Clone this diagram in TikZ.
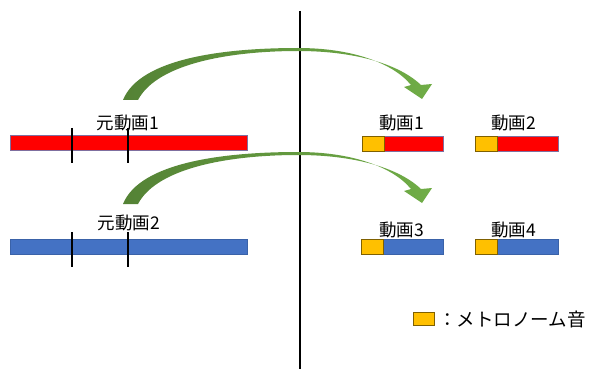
\documentclass[tikz,border=0pt]{standalone}
\usepackage{fontspec}
\newfontfamily\jp{Noto Sans CJK JP}
\definecolor{barred}{HTML}{FF0000}
\definecolor{redline}{HTML}{7F6F9F}
\definecolor{barblue}{HTML}{4472C4}
\definecolor{blueline}{HTML}{3A62A8}
\definecolor{metro}{HTML}{FFC000}
\definecolor{metroline}{HTML}{7F6000}
\definecolor{gdark}{HTML}{548235}
\definecolor{glight}{HTML}{70AD47}
\tikzset{
  barbox/.style={inner sep=0pt, minimum height=15pt, anchor=north west, line width=0.6pt},
  redbar/.style={barbox, fill=barred, draw=redline},
  bluebar/.style={barbox, fill=barblue, draw=blueline},
  metrobox/.style={inner sep=0pt, anchor=north west, fill=metro, draw=metroline, line width=0.7pt},
  lbl/.style={font=\jp\fontsize{17.5}{17.5}\selectfont, inner sep=0pt},
  leglbl/.style={font=\jp\fontsize{18.5}{18.5}\selectfont, inner sep=0pt},
  tick/.style={line width=1.8pt, black},
  garrow/.style={left color=gdark, right color=glight, draw=none}
}
\begin{document}
\begin{tikzpicture}[x=1pt,y=-1pt]
\useasboundingbox (0,0) rectangle (590,369);
% divider
\draw[line width=2pt] (300,11) -- (300,369);
% source bars
\node[redbar, minimum width=237pt] (src1) at (10,135) {};
\node[bluebar, minimum width=237pt] (src2) at (10,239) {};
\draw[tick] (72,128) -- (72,163);
\draw[tick] (128,128) -- (128,163);
\draw[tick] (72,232) -- (72,267);
\draw[tick] (128,232) -- (128,267);
\node[lbl] (l1) at (128,123) {元動画1};
\node[lbl] (l2) at (129,223) {元動画2};
% output bars
\node[redbar, minimum width=81pt] (v1) at (362,136) {};
\node[redbar, minimum width=83pt] (v2) at (475,136) {};
\node[bluebar, minimum width=82pt] (v3) at (361,239) {};
\node[bluebar, minimum width=83pt] (v4) at (475,239) {};
\node[metrobox, minimum width=22pt, minimum height=15pt] (m1) at (362,136) {};
\node[metrobox, minimum width=22pt, minimum height=15pt] (m2) at (475,136) {};
\node[metrobox, minimum width=22pt, minimum height=15pt] (m3) at (361,239) {};
\node[metrobox, minimum width=22pt, minimum height=15pt] (m4) at (475,239) {};
\node[lbl] (t1) at (401.5,123) {動画1};
\node[lbl] (t2) at (513.5,123) {動画2};
\node[lbl] (t3) at (401.5,229.5) {動画3};
\node[lbl] (t4) at (513.5,229.5) {動画4};
% arrows
\foreach \dy in {0,104} {
\begin{scope}[shift={(0,\dy)}]
\shade[garrow] (123,100) .. controls (140,58) and (225,48) .. (298,48)
  .. controls (350,48) and (392,62) .. (411,85) -- (404,87) -- (422,99) -- (432,84) -- (421,85)
  .. controls (398,63) and (352,51) .. (298,51)
  .. controls (235,51) and (158,62) .. (138,100) -- cycle;
\end{scope}
}
% legend
\node[metrobox, minimum width=21pt, minimum height=13pt] (leg) at (413,312) {};
\node[leglbl, anchor=west] (legt) at (438,319) {：メトロノーム音};
\end{tikzpicture}
\end{document}
